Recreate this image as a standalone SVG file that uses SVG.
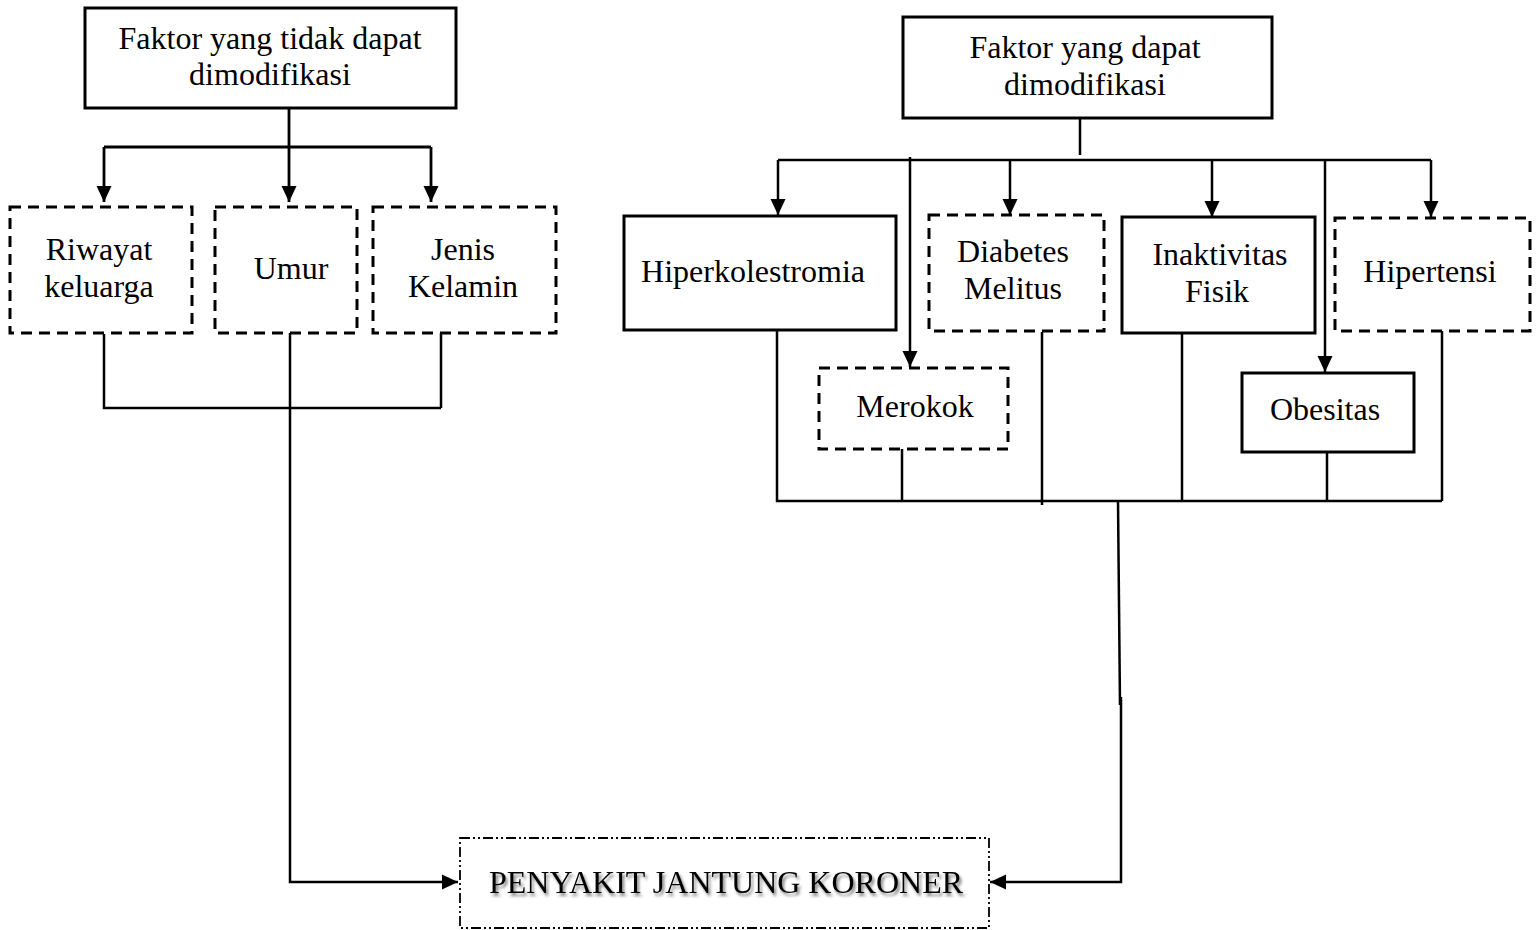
<svg xmlns="http://www.w3.org/2000/svg" width="1540" height="930" viewBox="0 0 1540 930">
<style>
text{font-family:"Liberation Serif","Times New Roman",serif;font-size:32px;fill:#000;text-anchor:middle}
.solid{fill:#fff;stroke:#000;stroke-width:3}
.dash{fill:#fff;stroke:#000;stroke-width:3;stroke-dasharray:11 7}
.ddot{fill:#fff;stroke:#000;stroke-width:1.8;stroke-dasharray:10 3 2 3 2 3}
.ln{fill:none;stroke:#000;stroke-width:2.5}
.lt{stroke-width:2.8}
.arr{marker-end:url(#ah)}
</style>
<defs>
<marker id="ah" markerUnits="userSpaceOnUse" markerWidth="18" markerHeight="18" viewBox="0 0 18 18" refX="16" refY="9" orient="auto">
<path d="M0,1.5 L16,9 L0,16.5 Z" fill="#000"/>
</marker>
<filter id="sh" x="-5%" y="-30%" width="110%" height="170%">
<feDropShadow dx="2" dy="3" stdDeviation="1.8" flood-color="#000" flood-opacity="0.5"/>
</filter>
</defs>
<rect width="1540" height="930" fill="#fff"/>
<g id="connectors">
<path class="ln lt" d="M289,108 V147 M104,147 H431"/>
<path class="ln lt arr" d="M104,147 V202"/>
<path class="ln lt arr" d="M289,147 V202"/>
<path class="ln lt arr" d="M431,147 V202"/>
<path class="ln" d="M104,334 V408 H441 M441,333 V408"/>
<path class="ln arr" d="M290,333 V882 H458"/>
<path class="ln" d="M1080,118 V155 M778,160 H1431"/>
<path class="ln arr" d="M778,160 V215"/>
<path class="ln arr" d="M910,157 V367"/>
<path class="ln arr" d="M1010,160 V215"/>
<path class="ln arr" d="M1212,160 V217"/>
<path class="ln arr" d="M1325,160 V372"/>
<path class="ln arr" d="M1431,160 V217"/>
<path class="ln" d="M777,330 V501 H1442 M902,449 V501 M1042,332 V505 M1182,333 V501 M1327,452 V501 M1442,331 V501"/>
<path class="ln" d="M1118,501 L1120,705"/>
<path class="ln arr" d="M1121,697 V882 H990"/>
</g>
<g id="node-tidak-dapat">
<rect class="solid" x="85" y="8" width="371" height="100"/>
<text x="270" y="49">Faktor yang tidak dapat</text>
<text x="270" y="85">dimodifikasi</text>
</g>
<g id="node-riwayat">
<rect class="dash" x="10" y="207" width="182" height="126"/>
<text x="99" y="260">Riwayat</text>
<text x="99" y="297">keluarga</text>
</g>
<g id="node-umur">
<rect class="dash" x="215" y="207" width="142" height="126"/>
<text x="291" y="279">Umur</text>
</g>
<g id="node-jenis">
<rect class="dash" x="373" y="207" width="183" height="126"/>
<text x="463" y="260">Jenis</text>
<text x="463" y="297">Kelamin</text>
</g>
<g id="node-dapat">
<rect class="solid" x="903" y="17" width="369" height="101"/>
<text x="1085" y="58">Faktor yang dapat</text>
<text x="1085" y="95">dimodifikasi</text>
</g>
<g id="node-hiperkolestromia">
<rect class="solid" x="624" y="216" width="272" height="114"/>
<text x="753" y="282">Hiperkolestromia</text>
</g>
<g id="node-diabetes">
<rect class="dash" x="929" y="215" width="175" height="116"/>
<text x="1013" y="262">Diabetes</text>
<text x="1013" y="299">Melitus</text>
</g>
<g id="node-inaktivitas">
<rect class="solid" x="1122" y="217" width="193" height="116"/>
<text x="1220" y="265">Inaktivitas</text>
<text x="1217" y="302">Fisik</text>
</g>
<g id="node-hipertensi">
<rect class="dash" x="1335" y="218" width="195" height="113"/>
<text x="1430" y="282">Hipertensi</text>
</g>
<g id="node-merokok">
<rect class="dash" x="819" y="368" width="189" height="81"/>
<text x="915" y="417">Merokok</text>
</g>
<g id="node-obesitas">
<rect class="solid" x="1242" y="373" width="172" height="79"/>
<text x="1325" y="420">Obesitas</text>
</g>
<g id="node-pjk">
<rect class="ddot" x="460" y="838" width="529" height="90"/>
<text x="726" y="893" filter="url(#sh)">PENYAKIT JANTUNG KORONER</text>
</g>
</svg>
